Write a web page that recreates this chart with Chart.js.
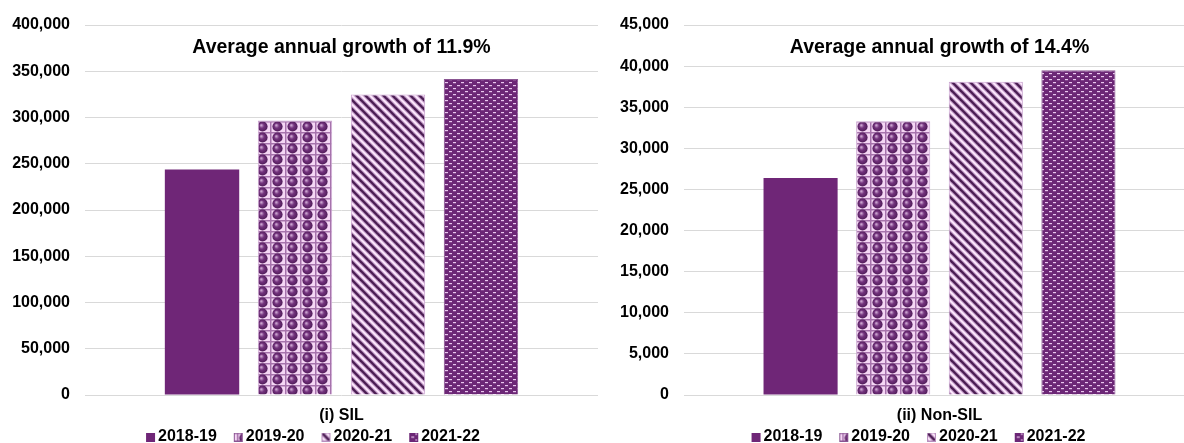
<!DOCTYPE html>
<html><head><meta charset="utf-8">
<script src="https://cdn.jsdelivr.net/npm/chart.js@4/dist/chart.umd.min.js"></script>
<style>
html,body{margin:0;padding:0;background:#fff;overflow:hidden;width:1184px;height:443px;position:relative;}
#w1{position:absolute;left:0;top:0;width:600px;height:455px;}
#w2{position:absolute;left:600px;top:0;width:597px;height:455px;}
</style></head><body>
<div id="w1"><canvas id="c1"></canvas></div>
<div id="w2"><canvas id="c2"></canvas></div>
<script>
// ---- data ----
const years = ['2018-19', '2019-20', '2020-21', '2021-22'];
const silCategory = ['(i) SIL'];
const nonSilCategory = ['(ii) Non-SIL'];
const silValues = [243800, 296700, 324900, 341500];
const nonSilValues = [26400, 33300, 38100, 39500];
const silTitle = 'Average annual growth of 11.9%';
const nonSilTitle = 'Average annual growth of 14.4%';
const silAxis = {max: 400000, step: 50000};
const nonSilAxis = {max: 45000, step: 5000};

// ---- patterns ----
function tileCanvas(w, h, draw) {
  const c = document.createElement('canvas');
  c.width = w; c.height = h;
  draw(c.getContext('2d'), w, h);
  return c;
}
function pattern(c) {
  return document.createElement('canvas').getContext('2d').createPattern(c, 'repeat');
}
const solidFill = '#6F2677';
const sphereFill = pattern(tileCanvas(15, 11, (g, w, h) => {
  g.fillStyle = '#F5D6F5'; g.fillRect(0, 0, w, h);
  g.fillStyle = '#A673AC';
  g.fillRect(0, 0, w, 1.5); g.fillRect(0, 0, 1.5, h);
  const grd = g.createRadialGradient(6.2, 4.2, 0.4, 7.5, 5.5, 5.4);
  grd.addColorStop(0, '#C9A2CE'); grd.addColorStop(0.4, '#74337E'); grd.addColorStop(1, '#4C1955');
  g.fillStyle = grd; g.beginPath(); g.arc(7.5, 5.5, 5.1, 0, Math.PI * 2); g.fill();
}));
const stripeFill = pattern(tileCanvas(9, 9, (g, w, h) => {
  g.fillStyle = '#FCE6FC'; g.fillRect(0, 0, w, h);
  g.lineCap = 'square';
  for (const k of [-9, 0, 9]) {
    g.strokeStyle = '#B890BE'; g.lineWidth = 4.2;
    g.beginPath(); g.moveTo(k, 0); g.lineTo(k + 9, 9); g.stroke();
  }
  for (const k of [-9, 0, 9]) {
    g.strokeStyle = '#4A1C52'; g.lineWidth = 2.2;
    g.beginPath(); g.moveTo(k, 0); g.lineTo(k + 9, 9); g.stroke();
  }
}));
const dashFill = pattern(tileCanvas(8, 6, (g, w, h) => {
  g.fillStyle = '#6C2776'; g.fillRect(0, 0, w, h);
  g.fillStyle = '#E9C6EE';
  g.fillRect(1, 1, 3, 1.2);
  g.fillRect(5, 4, 3, 1.2);
}));
const fills = [solidFill, sphereFill, stripeFill, dashFill];
const borders = ['#6F2677', '#C9A3CF', '#C9A3CF', '#8A5592'];
const borderWidths = [0, 1, 1, 1];

// legend markers: 9x9 square placed at the right part of a wider image
function legendMarker(fill, border) {
  return tileCanvas(46, 9, (g) => {
    g.fillStyle = fill; g.fillRect(27, 0, 9, 9);
    if (border) { g.strokeStyle = border; g.lineWidth = 1; g.strokeRect(27.5, 0.5, 8, 8); }
  });
}
const markers = [
  legendMarker(solidFill, null),
  legendMarker(sphereFill, '#8A5592'),
  legendMarker(stripeFill, '#B890BE'),
  legendMarker(dashFill, '#6C2776')
];

const FONT = '"Liberation Sans", Arial, sans-serif';
const titlePlugin = {
  id: 'innerTitle',
  afterDraw(chart, args, opts) {
    const {ctx, chartArea} = chart;
    ctx.save();
    ctx.font = 'bold 19.5px ' + FONT;
    ctx.fillStyle = '#000';
    ctx.textAlign = 'center';
    ctx.textBaseline = 'middle';
    ctx.fillText(opts.text, (chartArea.left + chartArea.right) / 2, chartArea.top + 22.5);
    ctx.restore();
  }
};
const legendShift = {
  id: 'legendShift',
  afterLayout(chart, args, opts) {
    if (chart.legend) { chart.legend.left += opts.dx; chart.legend.right += opts.dx; }
  }
};

function makeChart(id, category, values, title, axis, yWidth, dx) {
  const datasets = years.map((y, i) => ({
    label: y,
    data: [values[i]],
    backgroundColor: fills[i],
    borderColor: borders[i],
    borderWidth: borderWidths[i],
    categoryPercentage: 0.725,
    barPercentage: 0.8
  }));
  return new Chart(document.getElementById(id), {
    type: 'bar',
    data: {labels: category, datasets},
    plugins: [titlePlugin, legendShift],
    options: {
      responsive: true, maintainAspectRatio: false, animation: false,
      layout: {padding: {left: 12, right: 2, top: 25, bottom: 0}},
      scales: {
        x: {
          afterFit: s => { s.height = 29; },
          grid: {display: false, drawTicks: false}, border: {display: false},
          ticks: {padding: 11, color: '#000', font: {family: FONT, size: 16, weight: 'bold'}}
        },
        y: {
          min: 0, max: axis.max,
          afterFit: s => { s.width = yWidth; },
          ticks: {stepSize: axis.step, padding: 15, color: '#000',
            font: {family: FONT, size: 16, weight: 'bold'},
            callback: v => v.toLocaleString('en-US')},
          grid: {color: '#D9D9D9', lineWidth: 1, drawTicks: false},
          border: {display: false}
        }
      },
      plugins: {
        legend: {position: 'bottom',
          labels: {usePointStyle: true, pointStyleWidth: 16, boxHeight: 9, padding: 5, color: '#000',
            font: {family: FONT, size: 16, weight: 'bold'},
            generateLabels: chart => Chart.defaults.plugins.legend.labels.generateLabels(chart)
              .map((item, i) => Object.assign(item, {pointStyle: markers[i]}))}},
        tooltip: {enabled: false},
        innerTitle: {text: title},
        legendShift: {dx}
      }
    }
  });
}
makeChart('c1', silCategory, silValues, silTitle, silAxis, 73, 2);
makeChart('c2', nonSilCategory, nonSilValues, nonSilTitle, nonSilAxis, 72, 9);
</script>
</body></html>
